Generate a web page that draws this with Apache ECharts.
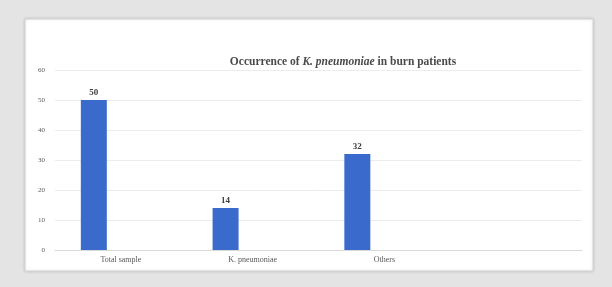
<!DOCTYPE html>
<html>
<head>
<meta charset="utf-8">
<script src="https://cdn.jsdelivr.net/npm/echarts@6/dist/echarts.min.js"></script>
<style>
  html, body { margin: 0; padding: 0; background: #e4e4e4; }
  #main { width: 612px; height: 287px; }
</style>
</head>
<body>
<div id="main"></div>
<script>
// 数据
var categories = ["Total sample", "K. pneumoniae", "Others", ""];
var counts = [50, 14, 32, "-"];
var emptySeries = ["-", "-", "-", "-"];
var yTicks = { min: 0, max: 60, interval: 10 };

var chart = echarts.init(document.getElementById("main"));
var serif = "'Liberation Serif', 'DejaVu Serif', serif";

var option = {
  backgroundColor: "#e4e4e4",
  animation: false,
  graphic: [
    {
      type: "rect",
      z: -10,
      shape: { x: 25, y: 19, width: 568, height: 252 },
      style: { fill: "#ffffff", stroke: "#d4d4d4", lineWidth: 1, shadowBlur: 3, shadowColor: "rgba(0,0,0,0.15)" },
    },
  ],
  title: {
    text: "Occurrence of {i|K. pneumoniae} in burn patients",
    left: 338,
    top: 51,
    textAlign: "center",
    textStyle: {
      fontFamily: serif,
      fontSize: 11.5,
      fontWeight: "bold",
      color: "#4a4a4a",
      rich: {
        i: { fontFamily: serif, fontSize: 11.5, fontWeight: "bold", fontStyle: "italic", color: "#4a4a4a" },
      },
    },
  },
  grid: { left: 55, right: 30, top: 70, bottom: 37 },
  xAxis: {
    type: "category",
    data: categories,
    axisTick: { show: false },
    axisLine: { lineStyle: { color: "#d9d9d9" } },
    axisLabel: { fontFamily: serif, fontSize: 8, color: "#595959", margin: 6 },
  },
  yAxis: {
    type: "value",
    min: yTicks.min,
    max: yTicks.max,
    interval: yTicks.interval,
    axisLine: { show: false },
    axisTick: { show: false },
    splitLine: { lineStyle: { color: "#ececec" } },
    axisLabel: { fontFamily: serif, fontSize: 7, color: "#595959", margin: 10 },
  },
  series: [
    {
      name: "Occurrence",
      type: "bar",
      data: counts,
      barWidth: 26,
      barGap: "108%",
      itemStyle: { color: "#3a6bcc" },
      label: {
        show: true,
        position: "top",
        distance: 3,
        fontFamily: serif,
        fontSize: 9,
        fontWeight: "bold",
        color: "#404040",
      },
    },
    {
      name: "",
      type: "bar",
      data: emptySeries,
      barWidth: 26,
    },
  ],
};
option && chart.setOption(option);
</script>
</body>
</html>
